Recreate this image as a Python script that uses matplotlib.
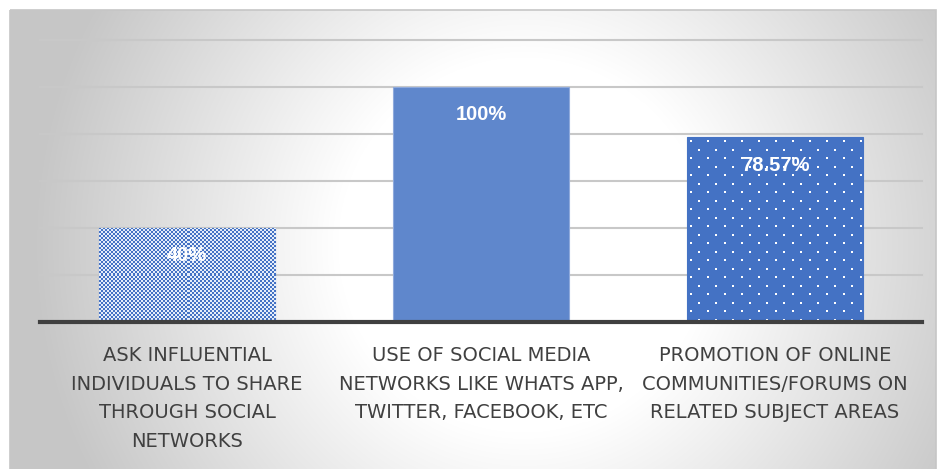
import matplotlib.pyplot as plt
import numpy as np
from matplotlib.patches import Rectangle

categories = [
    "ASK INFLUENTIAL\nINDIVIDUALS TO SHARE\nTHROUGH SOCIAL\nNETWORKS",
    "USE OF SOCIAL MEDIA\nNETWORKS LIKE WHATS APP,\nTWITTER, FACEBOOK, ETC",
    "PROMOTION OF ONLINE\nCOMMUNITIES/FORUMS ON\nRELATED SUBJECT AREAS",
]
values = [40, 100, 78.57]
value_labels = ["40%", "100%", "78.57%"]

W, H = 938, 469
fig = plt.figure(figsize=(W / 100, H / 100), dpi=100)

# gradient background panel
bg = fig.add_axes([0, 0, 1, 1], zorder=-2)
bg.set_xlim(0, W)
bg.set_ylim(H, 0)
bg.axis('off')
yy, xx = np.mgrid[0:H, 0:W]
d = np.sqrt(((xx - 520) / 470.0) ** 2 + ((yy - 240) / 480.0) ** 2)
t = np.clip((d - 0.4) / 0.65, 0, 1)
shade = 1.0 - 0.22 * t
img = np.dstack([shade, shade, shade])
bg.imshow(img, extent=[10, 936, 469, 10], aspect='auto', zorder=0)
bg.add_patch(Rectangle((10, 10), 926, 470, fill=False, edgecolor='#c6c6c6', lw=1.2, zorder=1))

ax_w, ax_h = 922 - 40, 322 - 40
ax = fig.add_axes([40 / W, 1 - 322 / H, ax_w / W, ax_h / H])
ax.patch.set_alpha(0)
x = np.arange(len(values))
ax.set_xlim(-0.5, 2.5)
ax.set_ylim(0, 120)
px_x = 3.0 / ax_w    # data units per pixel
px_y = 120.0 / ax_h
bw = 0.6

blue = np.array([0x44, 0x72, 0xC4]) / 255
bars = ax.bar(x, values, width=bw, color=['#4472C4', '#5f87cc', '#4472C4'],
              edgecolor=['#4472C4', '#8faadc', '#4472C4'], linewidth=0.8, zorder=3)

# fine checkerboard fill on the first bar
b0 = bars[0]
nx = int(round(bw / px_x / 2))
ny = int(round(values[0] / px_y / 2))
chk = (np.add.outer(np.arange(ny), np.arange(nx)) % 2).astype(float)
light = np.array([0.90, 0.93, 0.98])
tex = blue * (1 - chk[..., None]) + light * chk[..., None]
im = ax.imshow(tex, extent=[x[0] - bw / 2, x[0] + bw / 2, 0, values[0]],
               aspect='auto', interpolation='nearest', zorder=3.5)
im.set_clip_path(b0)

# white dot grid on the third bar
x0, x1 = x[2] - bw / 2, x[2] + bw / 2
rows = np.arange(4 * px_y, values[2], 8.5 * px_y)[::-1]
for k, ry in enumerate(rows):
    shift = 0 if k % 2 == 0 else 8.5 * px_x
    cols = np.arange(x0 + 4 * px_x + shift, x1, 17 * px_x)
    ax.scatter(cols, np.full_like(cols, values[2] - 4 * px_y - k * 8.5 * px_y),
               s=2.6 if k % 2 == 0 else 1.2, marker='s', color='white',
               linewidths=0, zorder=4, clip_on=True)

for i, v in enumerate(values):
    ax.annotate(value_labels[i], (x[i], v), xytext=(0, -20), textcoords='offset points',
                ha='center', va='center', color='white', fontsize=14.5,
                fontweight='bold', family='Liberation Sans', zorder=5)

ax.set_yticks([20, 40, 60, 80, 100, 120])
ax.yaxis.grid(True, color='#c8c8c8', lw=1.5, clip_on=False)
ax.set_axisbelow(True)
ax.tick_params(left=False, labelleft=False, bottom=False)
for s in ['top', 'right', 'left']:
    ax.spines[s].set_visible(False)
ax.spines['bottom'].set_color('#404040')
ax.spines['bottom'].set_linewidth(3)
ax.spines['bottom'].set_zorder(6)
ax.set_xticks(x)
ax.set_xticklabels(categories, fontsize=14, color='#404040',
                   linespacing=1.63, va='top')
ax.tick_params(axis='x', pad=14)

fig.savefig('out.png', dpi=100)
